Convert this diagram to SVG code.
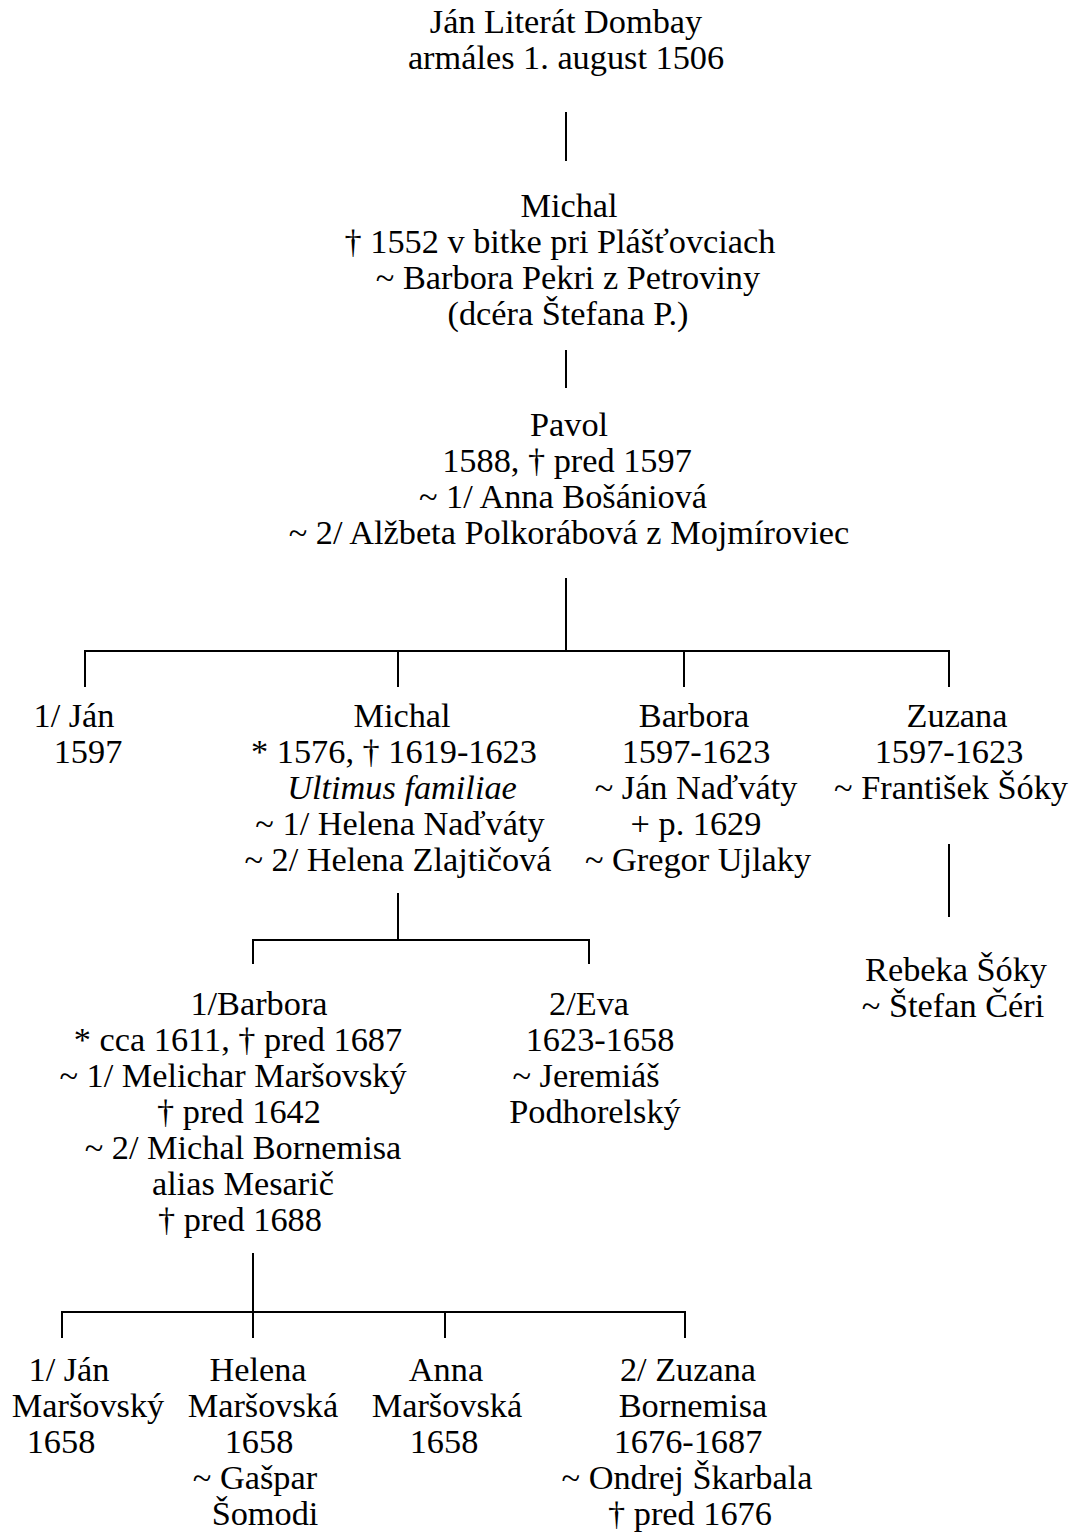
<svg xmlns="http://www.w3.org/2000/svg" width="1077" height="1532" viewBox="0 0 1077 1532">
<style>
text{font-family:"Liberation Serif","Times New Roman",serif;font-size:34.3px;fill:#000;text-anchor:middle}
.it{font-style:italic}
.c{stroke:#000;stroke-width:2;fill:none}
</style>
<rect width="1077" height="1532" fill="#fff"/>
<g id="connectors">
<line class="c" x1="566" y1="112" x2="566" y2="161"/>
<line class="c" x1="566" y1="350" x2="566" y2="388"/>
<line class="c" x1="566" y1="578" x2="566" y2="651"/>
<polyline class="c" points="85,687 85,651 949,651 949,687"/>
<line class="c" x1="398" y1="651" x2="398" y2="687"/>
<line class="c" x1="684" y1="651" x2="684" y2="687"/>
<line class="c" x1="398" y1="893" x2="398" y2="940"/>
<polyline class="c" points="253,964 253,940 589,940 589,964"/>
<line class="c" x1="949" y1="844" x2="949" y2="917"/>
<line class="c" x1="253" y1="1253" x2="253" y2="1312"/>
<polyline class="c" points="62,1338 62,1312 685,1312 685,1338"/>
<line class="c" x1="253" y1="1312" x2="253" y2="1338"/>
<line class="c" x1="445" y1="1312" x2="445" y2="1338"/>
</g>
<g id="n-jan">
<text x="566" y="33">Ján Literát Dombay</text>
<text x="566" y="69">armáles 1. august 1506</text>
</g>
<g id="n-michal1">
<text x="569" y="217">Michal</text>
<text x="560" y="253">† 1552 v bitke pri Plášťovciach</text>
<text x="568" y="289">~ Barbora Pekri z Petroviny</text>
<text x="568" y="325">(dcéra Štefana P.)</text>
</g>
<g id="n-pavol">
<text x="569" y="436">Pavol</text>
<text x="567" y="472">1588, † pred 1597</text>
<text x="563" y="508">~ 1/ Anna Bošániová</text>
<text x="569" y="544">~ 2/ Alžbeta Polkorábová z Mojmíroviec</text>
</g>
<g id="n-jan2">
<text x="74" y="727">1/  Ján</text>
<text x="88" y="763">1597</text>
</g>
<g id="n-michal2">
<text x="402" y="727">Michal</text>
<text x="394" y="763">* 1576, † 1619-1623</text>
<text class="it" x="402" y="799">Ultimus familiae</text>
<text x="400" y="835">~ 1/ Helena Naďváty</text>
<text x="398" y="871">~ 2/ Helena Zlajtičová</text>
</g>
<g id="n-barbora1">
<text x="694" y="727">Barbora</text>
<text x="696" y="763">1597-1623</text>
<text x="696" y="799">~ Ján Naďváty</text>
<text x="696" y="835">+ p. 1629</text>
<text x="698" y="871">~ Gregor Ujlaky</text>
</g>
<g id="n-zuzana1">
<text x="957" y="727">Zuzana</text>
<text x="949" y="763">1597-1623</text>
<text x="951" y="799">~ František Šóky</text>
</g>
<g id="n-rebeka">
<text x="956" y="981">Rebeka Šóky</text>
<text x="953" y="1017">~ Štefan Čéri</text>
</g>
<g id="n-barbora2">
<text x="259" y="1015">1/Barbora</text>
<text x="238" y="1051">* cca 1611, † pred 1687</text>
<text x="233" y="1087">~ 1/ Melichar Maršovský</text>
<text x="239" y="1123">† pred 1642</text>
<text x="243" y="1159">~ 2/ Michal Bornemisa</text>
<text x="243" y="1195">alias Mesarič</text>
<text x="240" y="1231">† pred 1688</text>
</g>
<g id="n-eva">
<text x="589" y="1015">2/Eva</text>
<text x="600" y="1051">1623-1658</text>
<text x="586" y="1087">~ Jeremiáš</text>
<text x="595" y="1123">Podhorelský</text>
</g>
<g id="n-jan3">
<text x="69" y="1381">1/ Ján</text>
<text x="88" y="1417">Maršovský</text>
<text x="61" y="1453">1658</text>
</g>
<g id="n-helena">
<text x="258" y="1381">Helena</text>
<text x="263" y="1417">Maršovská</text>
<text x="259" y="1453">1658</text>
<text x="255" y="1489">~ Gašpar</text>
<text x="265" y="1525">Šomodi</text>
</g>
<g id="n-anna">
<text x="446" y="1381">Anna</text>
<text x="447" y="1417">Maršovská</text>
<text x="444" y="1453">1658</text>
</g>
<g id="n-zuzana2">
<text x="688" y="1381">2/ Zuzana</text>
<text x="693" y="1417">Bornemisa</text>
<text x="688" y="1453">1676-1687</text>
<text x="687" y="1489">~ Ondrej Škarbala</text>
<text x="690" y="1525">† pred 1676</text>
</g>
</svg>
